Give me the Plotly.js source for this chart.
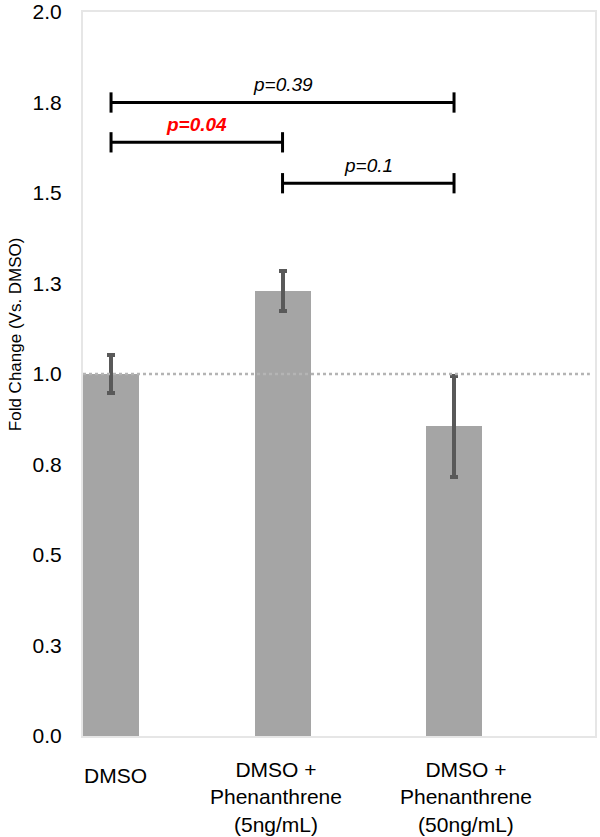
<!DOCTYPE html>
<html>
<head>
<meta charset="utf-8">
<script src="https://cdn.plot.ly/plotly-3.0.1.min.js"></script>
<style>html,body{margin:0;padding:0;background:#fff;}#chart{width:600px;height:837px;}</style>
</head>
<body>
<div id="chart"></div>
<script>
// Data
const categories = ["DMSO", "DMSO +<br>Phenanthrene<br>(5ng/mL)", "DMSO +<br>Phenanthrene<br>(50ng/mL)"];
const foldChange = [1.0, 1.23, 0.855];
const errors = [0.053, 0.055, 0.14];
const yTickVals = [0, 0.25, 0.5, 0.75, 1.0, 1.25, 1.5, 1.75, 2.0];
const yTickText = ["0.0", "0.3", "0.5", "0.8", "1.0", "1.3", "1.5", "1.8", "2.0"];
const bracketFrom = [0, 0, 1];
const bracketTo = [2, 1, 2];
const bracketY = [1.75, 1.64, 1.527];
const pValues = [0.39, 0.04, 0.1];
const pLabels = ["p=0.39", "p=0.04", "p=0.1"];
const referenceLevel = 1.0;

const FONT = "Liberation Sans, Arial, Helvetica, sans-serif";
const barWidth = 0.327;
const capHalf = 0.028;
const xIdx = categories.map((_, i) => i);
const labelXShift = [4, -7, 12];

const traces = [{
  type: "bar",
  x: xIdx,
  y: foldChange,
  width: barWidth,
  marker: {color: "#a5a5a5"},
  error_y: {type: "data", array: errors, visible: true, color: "#595959", thickness: 4, width: 4},
  hoverinfo: "skip",
  showlegend: false
}];

const annotations = [];
bracketFrom.forEach((a, i) => {
  const b = bracketTo[i], y = bracketY[i];
  traces.push({
    type: "scatter", mode: "lines",
    x: [a, a, null, a, b, null, b, b],
    y: [y - capHalf, y + capHalf, null, y, y, null, y - capHalf, y + capHalf],
    line: {color: "#000000", width: 3},
    hoverinfo: "skip", showlegend: false, cliponaxis: false
  });
  const sig = pValues[i] < 0.05;
  annotations.push({
    x: (a + b) / 2, y: y, xref: "x", yref: "y",
    text: sig ? "<b><i>" + pLabels[i] + "</i></b>" : "<i>" + pLabels[i] + "</i>",
    showarrow: false, yshift: 18, yanchor: "middle",
    font: {family: FONT, size: 19, color: sig ? "#ff0000" : "#000000"}
  });
});

// category labels under the axis
categories.forEach((c, i) => {
  const multi = c.indexOf("<br>") >= 0;
  annotations.push({
    x: i, y: 0, xref: "x", yref: "paper",
    text: c, showarrow: false, align: "center",
    xanchor: "center", yanchor: "top",
    xshift: labelXShift[i], yshift: multi ? -20 : -26,
    font: {family: FONT, size: 21, color: "#000000"}
  });
});

annotations.push({
  text: "Fold Change (Vs. DMSO)",
  xref: "paper", yref: "paper", x: 0, y: 0.555,
  xanchor: "center", yanchor: "middle", xshift: -68,
  textangle: -90, showarrow: false,
  font: {family: FONT, size: 17, color: "#000000"}
});

const layout = {
  width: 600, height: 837,
  margin: {l: 83, r: 5, t: 12, b: 101, pad: 0},
  paper_bgcolor: "#ffffff", plot_bgcolor: "#ffffff",
  font: {family: FONT, color: "#000000"},
  showlegend: false,
  bargap: 0,
  xaxis: {
    range: [-barWidth / 2, 2.822],
    tickmode: "array", tickvals: xIdx, ticktext: categories,
    showticklabels: false,
    ticks: "", showgrid: false, zeroline: false,
    showline: true, mirror: true, linecolor: "#e6e6e6", linewidth: 2,
    fixedrange: true
  },
  yaxis: {
    range: [0, 2],
    tickmode: "array", tickvals: yTickVals, ticktext: yTickText,
    tickfont: {family: FONT, size: 21, color: "#000000"},
    ticks: "", showgrid: false, zeroline: false,
    showline: true, mirror: true, linecolor: "#e6e6e6", linewidth: 2,
    ticklabelstandoff: 15, fixedrange: true
  },
  shapes: [{
    type: "line", xref: "paper", yref: "y",
    x0: 0, x1: 0.99, y0: referenceLevel, y1: referenceLevel,
    line: {color: "#b4b4b4", width: 2.5, dash: "dot"},
    layer: "above"
  }],
  annotations: annotations
};

Plotly.newPlot("chart", traces, layout, {displayModeBar: false, staticPlot: true});
</script>
</body>
</html>
